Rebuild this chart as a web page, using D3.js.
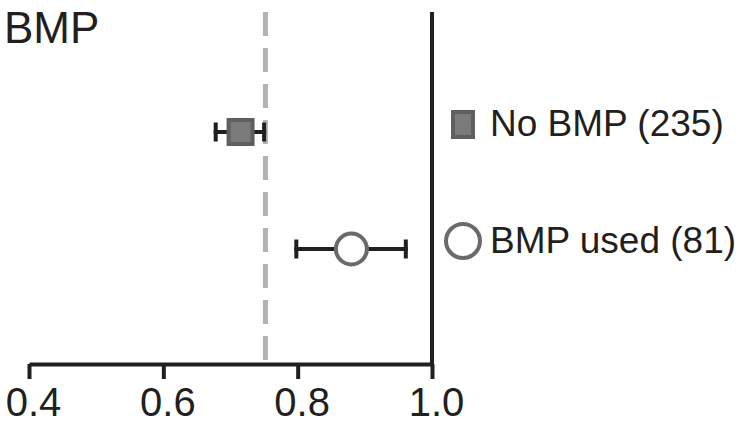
<!DOCTYPE html>
<html>
<head>
<meta charset="utf-8">
<script src="https://cdn.jsdelivr.net/npm/d3@7"></script>
<style>
  body { margin: 0; background: #ffffff; }
  svg text { font-family: "Liberation Sans", Arial, Helvetica, sans-serif; fill: #231f20; }
</style>
</head>
<body>
<svg id="chart"></svg>
<script>
// Data
const groups = ["No BMP (235)", "BMP used (81)"];
const estimates = [0.715, 0.88];
const lowerCI = [0.675, 0.795];
const upperCI = [0.753, 0.964];
const markers = ["square", "circle"];
const refValue = 0.752;
const tickValues = [0.4, 0.6, 0.8, 1.0];

const width = 743;
const height = 425;

const svg = d3.select("#chart")
    .attr("width", width)
    .attr("height", height)
    .attr("viewBox", [0, 0, width, height]);

// Scales
const x = d3.scaleLinear().domain([0.4, 1.0]).range([29, 432]);
const y = d3.scalePoint().domain(groups).range([132, 249]);

const axisY = 364;
const topY = 12;
const ink = "#231f20";

// Reference dashed line
svg.append("line")
    .attr("x1", x(refValue)).attr("x2", x(refValue))
    .attr("y1", topY).attr("y2", axisY - 2)
    .attr("stroke", "#b3b3b3")
    .attr("stroke-width", 5)
    .attr("stroke-dasharray", "24,12");

// Vertical line at 1.0
svg.append("line")
    .attr("x1", x(1.0)).attr("x2", x(1.0))
    .attr("y1", topY).attr("y2", axisY)
    .attr("stroke", ink)
    .attr("stroke-width", 4);

// Bottom axis
const axis = d3.axisBottom(x)
    .tickValues(tickValues)
    .tickFormat(d3.format(".1f"))
    .tickSize(15)
    .tickSizeOuter(0)
    .tickPadding(9);

const axisG = svg.append("g")
    .attr("transform", `translate(0,${axisY})`)
    .call(axis);

axisG.select(".domain").attr("stroke", ink).attr("stroke-width", 4);
axisG.selectAll(".tick line").attr("stroke", ink).attr("stroke-width", 4);
axisG.selectAll(".tick text")
    .attr("dx", 4)
    .style("font-size", "40px")
    .style("font-family", "'Liberation Sans', Arial, sans-serif")
    .attr("fill", ink);

// Title
svg.append("text")
    .attr("x", 4)
    .attr("y", 43)
    .style("font-size", "44px")
    .text("BMP");

// Error bars
const rows = groups.map((g, i) => ({
    group: g, est: estimates[i], lo: lowerCI[i], hi: upperCI[i], marker: markers[i]
}));

const capH = 19;
const bars = svg.append("g");

bars.selectAll(".ci")
    .data(rows)
    .join("line")
    .attr("x1", d => x(d.lo)).attr("x2", d => x(d.hi))
    .attr("y1", d => y(d.group)).attr("y2", d => y(d.group))
    .attr("stroke", ink).attr("stroke-width", 4);

bars.selectAll(".cap-lo")
    .data(rows)
    .join("line")
    .attr("x1", d => x(d.lo) + 2).attr("x2", d => x(d.lo) + 2)
    .attr("y1", d => y(d.group) - capH / 2).attr("y2", d => y(d.group) + capH / 2)
    .attr("stroke", ink).attr("stroke-width", 4);

bars.selectAll(".cap-hi")
    .data(rows)
    .join("line")
    .attr("x1", d => x(d.hi) - 2).attr("x2", d => x(d.hi) - 2)
    .attr("y1", d => y(d.group) - capH / 2).attr("y2", d => y(d.group) + capH / 2)
    .attr("stroke", ink).attr("stroke-width", 4);

// Point markers
function drawMarker(g, kind, cx, cy, size) {
    if (kind === "square") {
        g.append("rect")
            .attr("x", cx - size / 2).attr("y", cy - size / 2)
            .attr("width", size).attr("height", size)
            .attr("fill", "#7a7a7a")
            .attr("stroke", "#5f5f5f")
            .attr("stroke-width", 4);
    } else {
        g.append("circle")
            .attr("cx", cx).attr("cy", cy)
            .attr("r", size / 2)
            .attr("fill", "#ffffff")
            .attr("stroke", "#6a6a6a")
            .attr("stroke-width", 4);
    }
}

rows.forEach(d => drawMarker(svg.append("g"), d.marker, x(d.est), y(d.group), d.marker === "square" ? 24 : 31));

// Legend
const legend = svg.append("g");
rows.forEach(d => {
    const ly = y(d.group) - 8;
    if (d.marker === "square") {
        legend.append("rect")
            .attr("x", 453).attr("y", ly - 12)
            .attr("width", 20).attr("height", 25)
            .attr("fill", "#7a7a7a")
            .attr("stroke", "#5f5f5f")
            .attr("stroke-width", 4);
    } else {
        drawMarker(legend, "circle", 463, ly, 34);
    }
    legend.append("text")
        .attr("x", 490)
        .attr("y", ly + 12)
        .style("font-size", "37px")
        .text(d.group);
});
</script>
</body>
</html>
